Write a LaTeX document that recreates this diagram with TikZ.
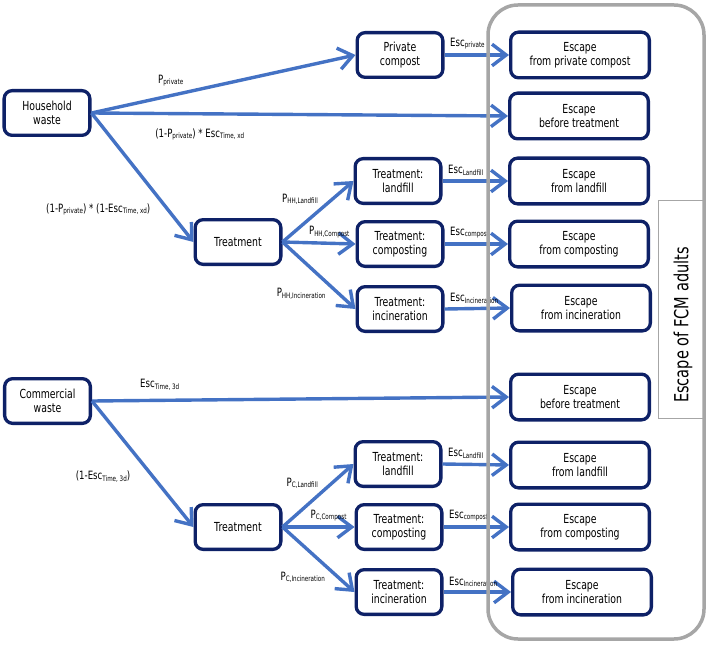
\documentclass[tikz,border=0pt]{standalone}
\usepackage{fontspec}
\setmainfont{DejaVu Sans}[FakeStretch=0.75]
\usetikzlibrary{arrows.meta}
\definecolor{flowblue}{HTML}{4472C4}
\definecolor{boxnavy}{HTML}{0E2167}
\definecolor{framegray}{HTML}{A6A6A6}
\newcommand{\sbs}[1]{\raisebox{-1.2bp}{\fontsize{7.5}{8}\selectfont #1}}

\begin{document}
\begin{tikzpicture}[x=1bp, y=-1bp, >={Straight Barb[length=5mm, width=7.6mm]}, every node/.style={font=\fontsize{12.5}{14.5}\selectfont}, wbox/.style={draw=boxnavy, line width=3.3bp, rounded corners=8bp, fill=white, align=center, minimum width=85.7bp, minimum height=44.7bp, inner sep=2bp}, ebox/.style={wbox, minimum width=138.7bp, minimum height=45.7bp}, flow/.style={->, flowblue, line width=3.4bp}, lbl/.style={text=black, font=\fontsize{11.5}{13}\selectfont, inner sep=2bp}]
	\useasboundingbox (0,0) rectangle (709,645);
	% household waste
	\node[wbox] (hh) at (47,113) {Household\\waste};
	\node[wbox] (priv) at (400,55) {Private\\compost};
	\node[wbox] (trhh) at (238,242) {Treatment};
	\node[wbox] (lfhh) at (398,181) {Treatment:\\landfill};
	\node[wbox] (cphh) at (400,244) {Treatment:\\composting};
	\node[wbox] (inhh) at (400,309) {Treatment:\\incineration};
	\node[ebox] (epriv) at (580,55) {Escape\\from private compost};
	\node[ebox] (ebthh) at (579,116) {Escape\\before treatment};
	\node[ebox] (elfhh) at (579,181) {Escape\\from landfill};
	\node[ebox] (ecphh) at (579,244) {Escape\\from composting};
	\node[ebox] (einhh) at (581,308) {Escape\\from incineration};
	% commercial waste
	\node[wbox] (cw) at (47.5,401) {Commercial\\waste};
	\node[wbox] (trc) at (238,527) {Treatment};
	\node[wbox] (lfc) at (398,464) {Treatment:\\landfill};
	\node[wbox] (cpc) at (399,527) {Treatment:\\composting};
	\node[wbox] (inc) at (399,592) {Treatment:\\incineration};
	\node[ebox] (ebtc) at (580,397) {Escape\\before treatment};
	\node[ebox] (elfc) at (580,465) {Escape\\from landfill};
	\node[ebox] (ecpc) at (580,527) {Escape\\from composting};
	\node[ebox] (einc) at (582,592) {Escape\\from incineration};
	% flows, household
	\draw[flow] (hh.east) -- (priv.west) node[lbl, pos=0.3, above=6bp] {P\sbs{private}};
	\draw[flow] (hh.east) -- (ebthh.west) node[lbl, pos=0.26, below=11bp] {(1-P\sbs{private}) * Esc\sbs{Time, xd}};
	\draw[flow] (hh.east) -- (trhh.west) node[lbl, pos=0.75, left=14bp] {(1-P\sbs{private}) * (1-Esc\sbs{Time, xd})};
	\draw[flow] (trhh.east) -- (lfhh.west) node[lbl, pos=0.55, above left] {P\sbs{HH,Landfill}};
	\draw[flow] (trhh.east) -- (cphh.west) node[lbl, pos=0.64, above=2bp] {P\sbs{HH,Compost}};
	\draw[flow] (trhh.east) -- (inhh.west) node[lbl, pos=0.64, below left] {P\sbs{HH,Incineration}};
	\draw[flow] (priv.east) -- (epriv.west) node[lbl, pos=0, above right=2bp] {Esc\sbs{private}};
	\draw[flow] (lfhh.east) -- (elfhh.west) node[lbl, pos=0, above right=2bp] {Esc\sbs{Landfill}};
	\draw[flow] (cphh.east) -- (ecphh.west) node[lbl, pos=0, above right=2bp] {Esc\sbs{compost}};
	\draw[flow] (inhh.east) -- (einhh.west) node[lbl, pos=0, above right=2bp] {Esc\sbs{Incineration}};
	% flows, commercial
	\draw[flow] (cw.east) -- (ebtc.west) node[lbl, pos=0.09, above right=7bp] {Esc\sbs{Time, 3d}};
	\draw[flow] (cw.east) -- (trc.west) node[lbl, pos=0.6, left=19bp] {(1-Esc\sbs{Time, 3d})};
	\draw[flow] (trc.east) -- (lfc.west) node[lbl, pos=0.55, above left] {P\sbs{C,Landfill}};
	\draw[flow] (trc.east) -- (cpc.west) node[lbl, pos=0.64, above=2bp] {P\sbs{C,Compost}};
	\draw[flow] (trc.east) -- (inc.west) node[lbl, pos=0.64, below left] {P\sbs{C,Incineration}};
	\draw[flow] (lfc.east) -- (elfc.west) node[lbl, pos=0, above right=2bp] {Esc\sbs{Landfill}};
	\draw[flow] (cpc.east) -- (ecpc.west) node[lbl, pos=0, above right=2bp] {Esc\sbs{compost}};
	\draw[flow] (inc.east) -- (einc.west) node[lbl, pos=0, above right=2bp] {Esc\sbs{Incineration}};
	% frame round the escape boxes
	\node[draw=framegray, line width=1bp, fill=white, minimum width=46bp, minimum height=217bp, inner sep=0pt] (fcmbox) at (681.5,309.5) {};
	\node[rotate=90, font=\fontsize{19.5}{22}\selectfont] (fcm) at (683,325) {Escape of FCM adults};
	\draw[framegray, line width=3.5bp, rounded corners=30bp] (488,5) rectangle (704,639);
\end{tikzpicture}
\end{document}
